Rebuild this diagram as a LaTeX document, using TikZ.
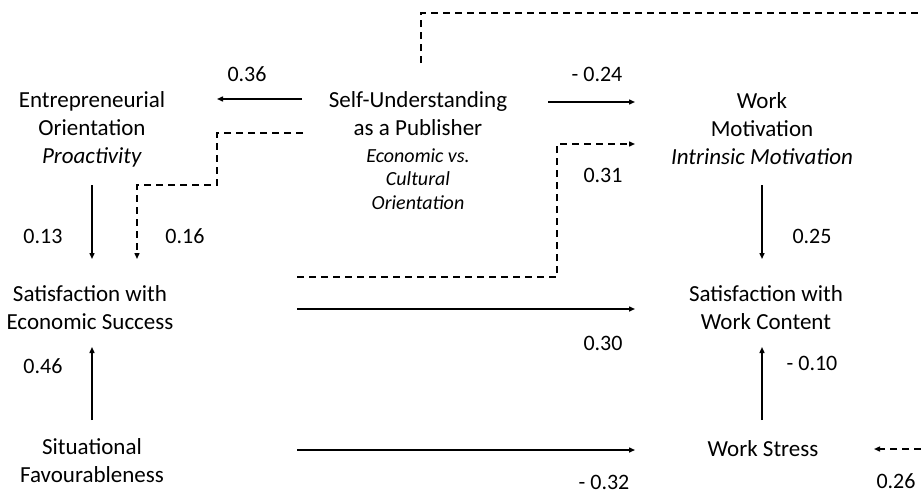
\documentclass[tikz,border=0pt]{standalone}
\usepackage{fontspec}
\setmainfont{Carlito}
\usetikzlibrary{arrows.meta}
\begin{document}
\begin{tikzpicture}[x=1pt,y=-1pt,
  lbl/.style={inner sep=0pt,align=center,font=\fontsize{23}{28}\selectfont},
  sub/.style={inner sep=0pt,align=center,font=\fontsize{20}{23.5}\selectfont\itshape},
  num/.style={inner sep=0pt,font=\fontsize{22}{24}\selectfont},
  conn/.style={line width=1.4pt,-{Triangle[length=6pt,width=5pt]}},
  dconn/.style={conn,dash pattern=on 7pt off 5pt},
  dline/.style={line width=1.4pt,dash pattern=on 7pt off 5pt}]
\useasboundingbox (0,0) rectangle (921,493);
% nodes
\node[lbl] (eo) at (92,129) {Entrepreneurial\\Orientation\\\textit{Proactivity}};
\node[lbl] (su) at (418,114) {Self-Understanding\\as a Publisher};
\node[sub] (sud) at (418,179) {Economic vs.\\Cultural\\Orientation};
\node[lbl] (wm) at (762,129) {Work\\Motivation\\\textit{Intrinsic Motivation}};
\node[lbl] (ses) at (90,308) {Satisfaction with\\Economic Success};
\node[lbl] (swc) at (766,308) {Satisfaction with\\Work Content};
\node[lbl] (sf) at (92,461) {Situational\\Favourableness};
\node[lbl] (ws) at (763,449) {Work Stress};
% numbers
\node[num] (n36) at (247,74) {0.36};
\node[num] (n24) at (597,74) {- 0.24};
\node[num] (n31) at (603,175) {0.31};
\node[num] (n13) at (43,236) {0.13};
\node[num] (n16) at (185,236) {0.16};
\node[num] (n25) at (812,236) {0.25};
\node[num] (n30) at (603,343) {0.30};
\node[num] (n46) at (43,366) {0.46};
\node[num] (n10) at (812,363) {- 0.10};
\node[num] (n32) at (604,482) {- 0.32};
\node[num] (n26) at (896,481) {0.26};
% coordinates
\coordinate (a1) at (302,99);  \coordinate (a2) at (217,99);
\coordinate (b1) at (548,102); \coordinate (b2) at (635,102);
\coordinate (c1) at (303,133); \coordinate (c2) at (217,133);
\coordinate (c3) at (217,185); \coordinate (c4) at (137,185);
\coordinate (c5) at (137,259);
\coordinate (d1) at (92,185);  \coordinate (d2) at (92,259);
\coordinate (e1) at (297,277); \coordinate (e2) at (557,277);
\coordinate (e3) at (557,144); \coordinate (e4) at (635,144);
\coordinate (f1) at (297,309); \coordinate (f2) at (635,309);
\coordinate (g1) at (297,450); \coordinate (g2) at (635,450);
\coordinate (h1) at (92,420);  \coordinate (h2) at (92,347);
\coordinate (i1) at (762,185); \coordinate (i2) at (762,259);
\coordinate (j1) at (762,420); \coordinate (j2) at (762,347);
\coordinate (k1) at (921,449); \coordinate (k2) at (874,449);
\coordinate (t1) at (421,63);  \coordinate (t2) at (421,13);
\coordinate (t3) at (921,13);
% connectors
\draw[conn] (a1) -- (a2);
\draw[conn] (b1) -- (b2);
\draw[dconn] (c1) -- (c2) -- (c3) -- (c4) -- (c5);
\draw[conn] (d1) -- (d2);
\draw[dconn] (e1) -- (e2) -- (e3) -- (e4);
\draw[conn] (f1) -- (f2);
\draw[conn] (g1) -- (g2);
\draw[conn] (h1) -- (h2);
\draw[conn] (i1) -- (i2);
\draw[conn] (j1) -- (j2);
\draw[dconn] (k1) -- (k2);
\draw[dline] (t1) -- (t2) -- (t3);
\end{tikzpicture}
\end{document}
